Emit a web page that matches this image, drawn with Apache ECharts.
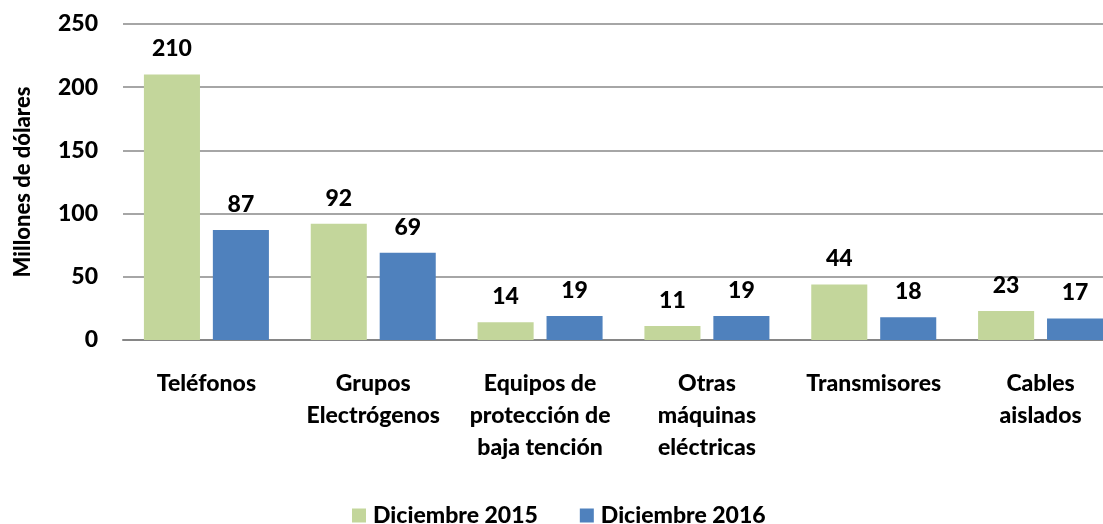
<!DOCTYPE html>
<html>
<head>
<meta charset="utf-8">
<script src="https://cdn.jsdelivr.net/npm/echarts@6/dist/echarts.min.js"></script>
<style>html,body{margin:0;padding:0;background:#fff;overflow:hidden}#c{width:1124px;height:524px}</style>
</head>
<body>
<div id="c"></div>
<script>
const categories = ["Teléfonos", "Grupos\nElectrógenos", "Equipos de\nprotección de\nbaja tención", "Otras\nmáquinas\neléctricas", "Transmisores", "Cables\naislados"];
const dic2015 = [210, 92, 14, 11, 44, 23];
const dic2016 = [87, 69, 19, 19, 18, 17];
const seriesNames = ["Diciembre 2015", "Diciembre 2016"];
const yTicks = [0, 50, 100, 150, 200, 250];

const FONT = "Lato";
const FS = 23;
const chart = echarts.init(document.getElementById('c'));
const labelStyle = {show: true, position: 'top', distance: 14, color: '#000', fontFamily: FONT, fontWeight: 900, fontSize: FS};
chart.setOption({
  animation: false,
  textStyle: {fontFamily: FONT},
  grid: {left: 123, top: 24, width: 1001, height: 316, containLabel: false},
  legend: {
    data: seriesNames, left: 347, top: 499, itemWidth: 14, itemHeight: 14, itemGap: 42,
    icon: 'rect',
    textStyle: {fontFamily: FONT, fontWeight: 900, fontSize: FS, color: '#000', padding: [0,0,0,2]}
  },
  xAxis: {
    type: 'category', data: categories,
    axisLine: {lineStyle: {color: '#868686', width: 2}},
    axisTick: {show: false},
    axisLabel: {interval: 0, margin: 28, color: '#000', fontFamily: FONT, fontWeight: 900, fontSize: FS, lineHeight: 32}
  },
  yAxis: {
    type: 'value', min: yTicks[0], max: yTicks[yTicks.length-1], interval: 50,
    name: 'Millones de dólares', nameLocation: 'middle', nameGap: 89, nameRotate: 90,
    nameTextStyle: {color: '#000', fontFamily: FONT, fontWeight: 900, fontSize: FS - 1},
    axisLine: {show: false}, axisTick: {show: false},
    axisLabel: {margin: 25, color: '#000', fontFamily: FONT, fontWeight: 900, fontSize: FS},
    splitLine: {lineStyle: {color: '#a6a6a6', width: 2}}
  },
  series: [
    {name: seriesNames[0], type: 'bar', data: dic2015, barWidth: '33.6%', barGap: '23%', itemStyle: {color: '#C3D69B'}, label: labelStyle},
    {name: seriesNames[1], type: 'bar', data: dic2016, barWidth: '33.6%', barGap: '23%', itemStyle: {color: '#4F81BD'}, label: labelStyle}
  ]
});
</script>
</body>
</html>
